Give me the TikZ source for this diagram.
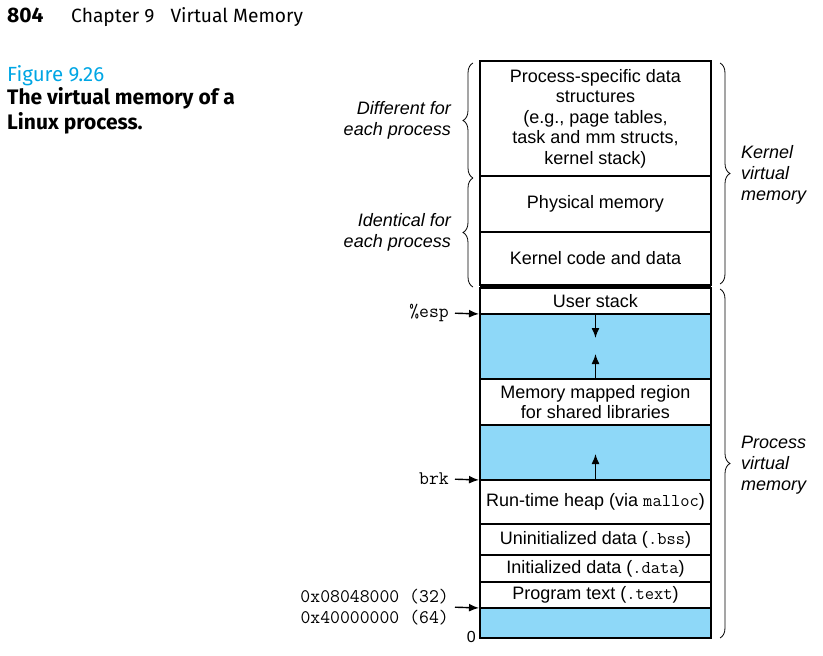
\documentclass[tikz,border=0pt]{standalone}
\usepackage{fontspec}
\setmainfont{Liberation Sans}
\newfontfamily\bookfont{Fira Sans}
\usetikzlibrary{positioning,arrows.meta,decorations.pathreplacing}

\definecolor{gapblue}{HTML}{8ED8F8}
\definecolor{figcyan}{HTML}{00A6E4}

\tikzset{
  region/.style={draw, line width=1.4pt, minimum width=231pt, outer sep=0pt, inner sep=0pt,
    align=center, font=\fontsize{18}{20.5}\selectfont},
  gap/.style={region, fill=gapblue},
  side/.style={inner sep=0pt, font=\fontsize{18}{21}\selectfont\itshape},
  ptr/.style={inner sep=0pt, align=right, font=\ttfamily\fontsize{19.2}{21}\selectfont},
  growarrow/.style={-{Latex[length=10pt,width=8pt]}, line width=1.4pt},
  brc/.style={decorate, decoration={brace, amplitude=10pt}, line width=0.8pt},
}

\begin{document}
\begin{tikzpicture}[x=1pt,y=-1pt]
\useasboundingbox (0,0) rectangle (823,656);

% running head and caption
\node[anchor=base west, inner sep=0pt, font=\bookfont\bfseries\fontsize{21}{24}\selectfont] (page) at (7,22) {804};
\node[anchor=base west, inner sep=0pt, font=\bookfont\fontsize{19.2}{24}\selectfont] (chap) at (71,22) {Chapter 9\hspace{16pt}Virtual Memory};
\node[anchor=base west, inner sep=0pt, text=figcyan, font=\bookfont\fontsize{20.5}{24}\selectfont] (fig) at (7,81) {Figure 9.26};
\node[anchor=north west, inner sep=0pt, align=left, font=\bookfont\bfseries\fontsize{21}{25}\selectfont] (cap) at (7,87) {The virtual memory of a\\Linux process.};

% the address space, top to bottom
\node[region, minimum height=115pt, anchor=north] (pds) at (595.5,61) {Process-specific data\\structures\\(e.g., page tables,\\task and mm structs,\\kernel stack)};
\node[region, minimum height=56pt, below=0pt of pds] (phys) {Physical memory};
\node[region, minimum height=53pt, below=0pt of phys] (kcode) {Kernel code and data};
\node[region, minimum height=26pt, below=3pt of kcode] (ustack) {User stack};
\node[gap, minimum height=65pt, below=0pt of ustack] (stackgap) {};
\node[region, minimum height=46pt, below=0pt of stackgap] (mmap) {Memory mapped region\\for shared libraries};
\node[gap, minimum height=55pt, below=0pt of mmap] (heapgap) {};
\node[region, minimum height=44pt, below=0pt of heapgap] (heap) {Run-time heap (via \texttt{malloc})};
\node[region, minimum height=31pt, below=0pt of heap] (bss) {Uninitialized data (\texttt{.bss})};
\node[region, minimum height=27pt, below=0pt of bss] (data) {Initialized data (\texttt{.data})};
\node[region, minimum height=26pt, below=0pt of data] (text) {Program text (\texttt{.text})};
\node[gap, minimum height=30pt, below=0pt of text] (low) {};
\draw[line width=3pt] ([yshift=-1.5pt]kcode.south west) -- ([yshift=-1.5pt]kcode.south east);

% growth of stack and heap
\coordinate (stacktip) at ([yshift=-24pt]stackgap.north);
\coordinate (mmaptip) at ([yshift=25pt]stackgap.south);
\coordinate (heaptip) at ([yshift=26pt]heapgap.south);
\draw[growarrow] (stackgap.north) -- (stacktip);
\draw[growarrow] (stackgap.south) -- (mmaptip);
\draw[growarrow] (heapgap.south) -- (heaptip);

% pointers
\node[ptr, anchor=east] (esp) at (449,313) {\%esp};
\node[ptr, anchor=east] (brk) at (449,479) {brk};
\node[ptr, anchor=east] (addr) at (449,607) {0x08048000 (32)\\0x40000000 (64)};
\node[inner sep=0pt, anchor=east, font=\fontsize{16}{18}\selectfont] (zero) at (476,637) {0};
\draw[growarrow, shorten <=6pt, shorten >=1pt] (esp.east) -- (stackgap.north west);
\draw[growarrow, shorten <=6pt, shorten >=1pt] (brk.east) -- (heapgap.south west);
\draw[growarrow, shorten <=6pt, shorten >=1pt] (addr.east) -- (text.south west);

% braces
\draw[brc] ([xshift=-7pt,yshift=-2pt]pds.south west) -- ([xshift=-7pt,yshift=-2pt]pds.north west);
\draw[brc] ([xshift=-7pt,yshift=-2pt]kcode.south west) -- ([xshift=-7pt,yshift=-2pt]phys.north west);
\draw[brc] ([xshift=9pt,yshift=-2pt]pds.north east) -- ([xshift=9pt,yshift=1pt]kcode.south east);
\draw[brc] ([xshift=9pt,yshift=-1pt]ustack.north east) -- ([xshift=9pt]low.south east);
\node[side, align=right, anchor=east] (diff) at (451,120) {Different for\\each process};
\node[side, align=right, anchor=east] (same) at (451,232) {Identical for\\each process};
\node[side, align=left, anchor=west] (kvm) at (741,175) {Kernel\\virtual\\memory};
\node[side, align=left, anchor=west] (pvm) at (741,465) {Process\\virtual\\memory};
\end{tikzpicture}
\end{document}
